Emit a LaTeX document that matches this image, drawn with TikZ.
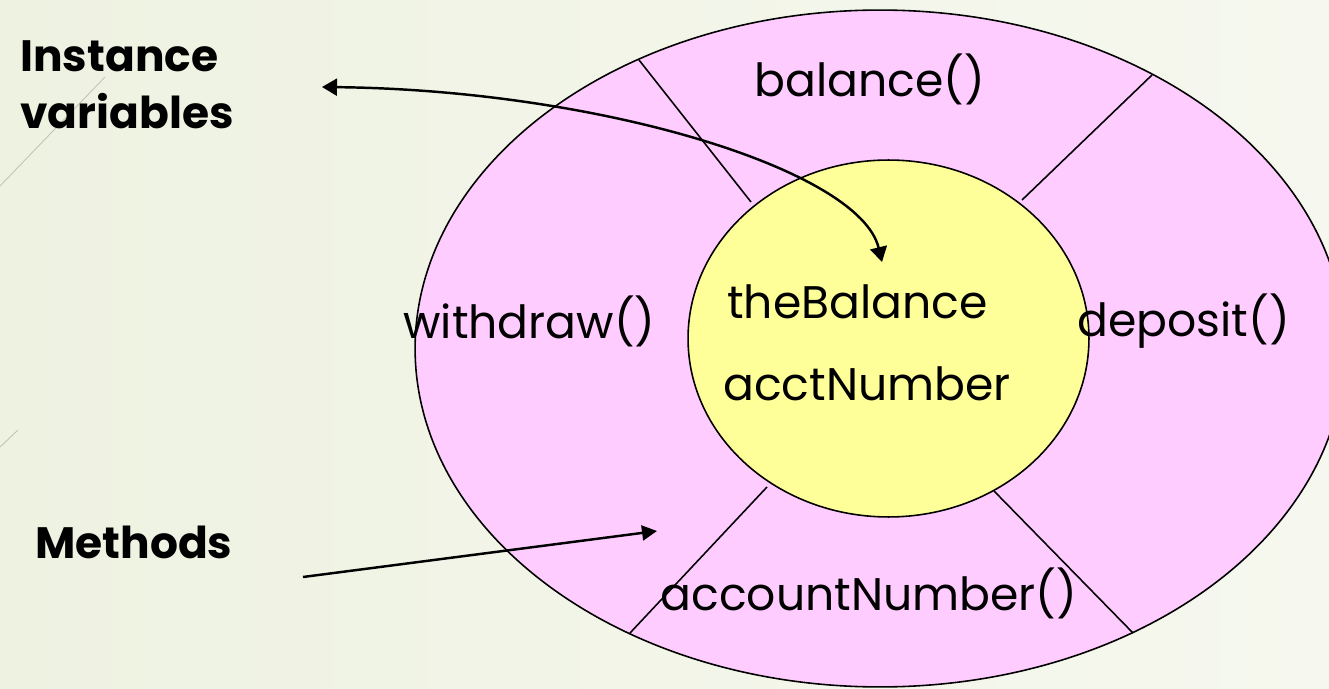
\documentclass[tikz,border=0pt]{standalone}
\usepackage{fontspec}
\setmainfont{Poppins}
\usepackage{xcolor}
\usetikzlibrary{arrows.meta, shapes.geometric, positioning}
\definecolor{ringpink}{RGB}{255,204,255}
\definecolor{coreyellow}{RGB}{255,255,153}
\definecolor{bggreen}{RGB}{238,242,225}
\definecolor{bgmid}{RGB}{250,251,245}
\definecolor{bglight}{RGB}{246,248,239}
\definecolor{facetline}{RGB}{196,196,176}

\tikzset{
    methodtext/.style={font=\fontsize{26}{31}\selectfont, inner sep=0pt, anchor=base},
    labeltext/.style={font=\bfseries\fontsize{25}{32.4}\selectfont, inner sep=0pt, align=left},
    pointer/.style={line width=1.4pt, -{Triangle[length=0.3cm, width=0.3cm]}},
    divider/.style={line width=0.9pt},
}

\begin{document}
\begin{tikzpicture}[x=0.02cm, y=-0.02cm]
        \useasboundingbox (0,0) rectangle (1329,689);
        \clip (0,0) rectangle (1329,689);
        \shade[left color=bggreen, middle color=bgmid, right color=bglight] (0,0) rectangle (1329,689);
        \draw[facetline, line width=0.5pt] (0,186) -- (105,77);
        \draw[facetline, line width=0.5pt] (0,447) -- (18,430);

        % Oggetto: anello dei metodi e nucleo dei dati
        \node[ellipse, draw, line width=0.9pt, fill=ringpink, inner sep=0pt,
              minimum width=18.6cm, minimum height=13.54cm] (ring) at (880,348.5) {};
        \node[ellipse, draw, line width=0.9pt, fill=coreyellow, inner sep=0pt,
              minimum width=8.02cm, minimum height=7.14cm] (core) at (888.5,338.5) {};

        % Divisori tra i metodi
        \draw[divider] (639,60) -- (751,202);
        \draw[divider] (1152,75) -- (1022,200);
        \draw[divider] (767,487) -- (630,633);
        \draw[divider] (994,491) -- (1133,633);

        \node[methodtext] (balance) at (870,97) {balance()};
        \node[methodtext, anchor=base west] (withdraw) at (403,338) {withdraw()};
        \node[methodtext, anchor=base west] (deposit) at (1077,337) {deposit()};
        \node[methodtext] (acctnum) at (869,610) {accountNumber()};
        \node[methodtext, anchor=base west] (thebal) at (727,318) {theBalance};
        \node[methodtext, anchor=base west] (acctvar) at (723,400) {acctNumber};

        \node[labeltext, anchor=north west] (instvar) at (20,40) {Instance\\variables};
        \node[labeltext, anchor=base west] (methods) at (35,558) {Methods};

        % Frecce
        \coordinate (ivtail) at (322,87);
        \coordinate (ivhead) at (882,262);
        \draw[line width=1.4pt, {Triangle[length=0.3cm, width=0.34cm]}-{Triangle[length=0.3cm, width=0.34cm]}]
            (ivtail) .. controls (600,90) and (860,170) .. (ivhead);
        \coordinate (mtail) at (303,577);
        \coordinate (mhead) at (657,531);
        \draw[pointer] (mtail) -- (mhead);
\end{tikzpicture}
\end{document}
